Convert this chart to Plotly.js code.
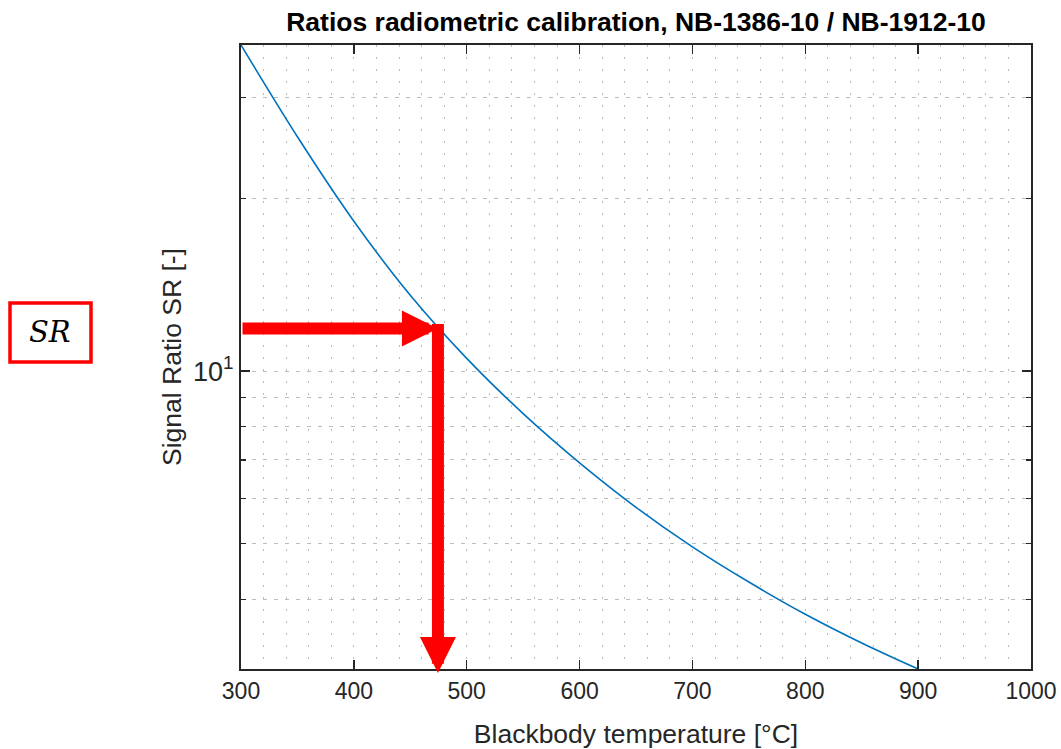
<!DOCTYPE html>
<html>
<head>
<meta charset="utf-8">
<script src="https://cdn.plot.ly/plotly-3.0.1.min.js"></script>
<style>html,body{margin:0;padding:0;background:#fff;}#chart{width:1061px;height:749px;}</style>
</head>
<body>
<div id="chart"></div>
<script>
// Blackbody temperature [°C]
const temperature = [300, 350, 400, 450, 500, 550, 600, 650, 700, 750, 800, 850, 900];
// Signal ratio SR [-]
const signalRatio = [36.98, 25.59, 18.24, 13.55, 10.52, 8.43, 6.92, 5.79, 4.94, 4.29, 3.77, 3.36, 3.027];
// Read-out point marked by the red arrows
const readT = 474.5;
const readSR = 11.86;
// Axis tick definitions
const xTicks = [300, 400, 500, 600, 700, 800, 900, 1000];
const yMajorTicks = [10];
const yMajorLabels = ['10<sup>1</sup>'];
const yMinorTicks = [4, 5, 6, 7, 8, 9, 20, 30];

const txt = '#262626';
const grid = '#bdbdbd';
const L = 241, T = 45, W = 790, H = 624;
const px = v => (v - L) / W;
const py = v => (T + H - v) / H;

const yLo = Math.log10(Math.min(...signalRatio));
const yHi = Math.log10(Math.max(...signalRatio));
const yPxPerLog = H / (yHi - yLo);

const trace = {
  x: temperature, y: signalRatio, type: 'scatter', mode: 'lines',
  line: {color: '#0072BD', width: 1.6, shape: 'spline', smoothing: 1},
  hoverinfo: 'skip', cliponaxis: true
};

const layout = {
  width: 1061, height: 749,
  margin: {l: L, r: 1061 - L - W, t: T, b: 749 - T - H},
  paper_bgcolor: '#ffffff', plot_bgcolor: '#ffffff',
  showlegend: false,
  font: {family: 'Liberation Sans, Arial, sans-serif', color: txt, size: 22},
  title: {text: '<b>Ratios radiometric calibration, NB-1386-10 / NB-1912-10</b>',
    font: {size: 26.5, color: '#000'}, x: (L + W / 2) / 1061, xanchor: 'center', y: 1 - 22 / 749, yanchor: 'middle'},
  xaxis: {
    range: [300, 1000], tickvals: xTicks, ticks: 'inside', ticklen: 9, tickwidth: 1.5, tickcolor: txt,
    showline: true, linecolor: txt, linewidth: 2, mirror: 'ticks', zeroline: false,
    showgrid: true, gridcolor: grid, griddash: '2px,10px', gridwidth: 1,
    minor: {dtick: 20, showgrid: true, gridcolor: grid, griddash: '2px,10px', gridwidth: 1, ticks: ''},
    tickfont: {size: 23, color: txt},
    title: {text: 'Blackbody temperature [°C]', font: {size: 26.5, color: txt}, standoff: 24},
    automargin: false
  },
  yaxis: {
    type: 'log', range: [yLo, yHi], tickmode: 'array', tickvals: yMajorTicks, ticktext: yMajorLabels,
    ticks: 'inside', ticklen: 9, tickwidth: 1.5, tickcolor: txt,
    showline: true, linecolor: txt, linewidth: 2, mirror: 'ticks', zeroline: false,
    showgrid: true, gridcolor: grid, griddash: '4px,7px', gridwidth: 1,
    minor: {tickmode: 'array', tickvals: yMinorTicks, ticks: 'inside', ticklen: 5, tickwidth: 1.2, tickcolor: txt,
      showgrid: true, gridcolor: grid, griddash: '4px,7px', gridwidth: 1},
    tickfont: {size: 27, color: txt},
    title: {text: 'Signal Ratio SR [-]', font: {size: 26.5, color: txt}, standoff: 4},
    automargin: false
  },
  annotations: [
    {x: readT, y: Math.log10(readSR), ax: 300, ay: Math.log10(readSR), xref: 'x', yref: 'y', axref: 'x', ayref: 'y',
      text: '', showarrow: true, arrowhead: 2, arrowsize: 0.6, arrowwidth: 12, arrowcolor: '#ff0000', standoff: 0},
    {x: readT, y: yLo - 4 / yPxPerLog, ax: readT, ay: Math.log10(readSR) + 6 / yPxPerLog, xref: 'x', yref: 'y', axref: 'x', ayref: 'y',
      text: '', showarrow: true, arrowhead: 2, arrowsize: 0.6, arrowwidth: 12, arrowcolor: '#ff0000', standoff: 0},
    {x: px(50), y: py(332), xref: 'paper', yref: 'paper', text: '<i>SR</i>', showarrow: false,
      font: {family: 'DejaVu Serif, Liberation Serif, serif', size: 29, color: '#000'}, xanchor: 'center', yanchor: 'middle'}
  ],
  shapes: [
    {type: 'rect', xref: 'paper', yref: 'paper', x0: px(10), x1: px(91), y0: py(303), y1: py(362),
      line: {color: '#ff0000', width: 3.5}, fillcolor: 'rgba(0,0,0,0)', layer: 'above'}
  ]
};

Plotly.newPlot('chart', [trace], layout, {staticPlot: true, displayModeBar: false});
</script>
</body>
</html>
